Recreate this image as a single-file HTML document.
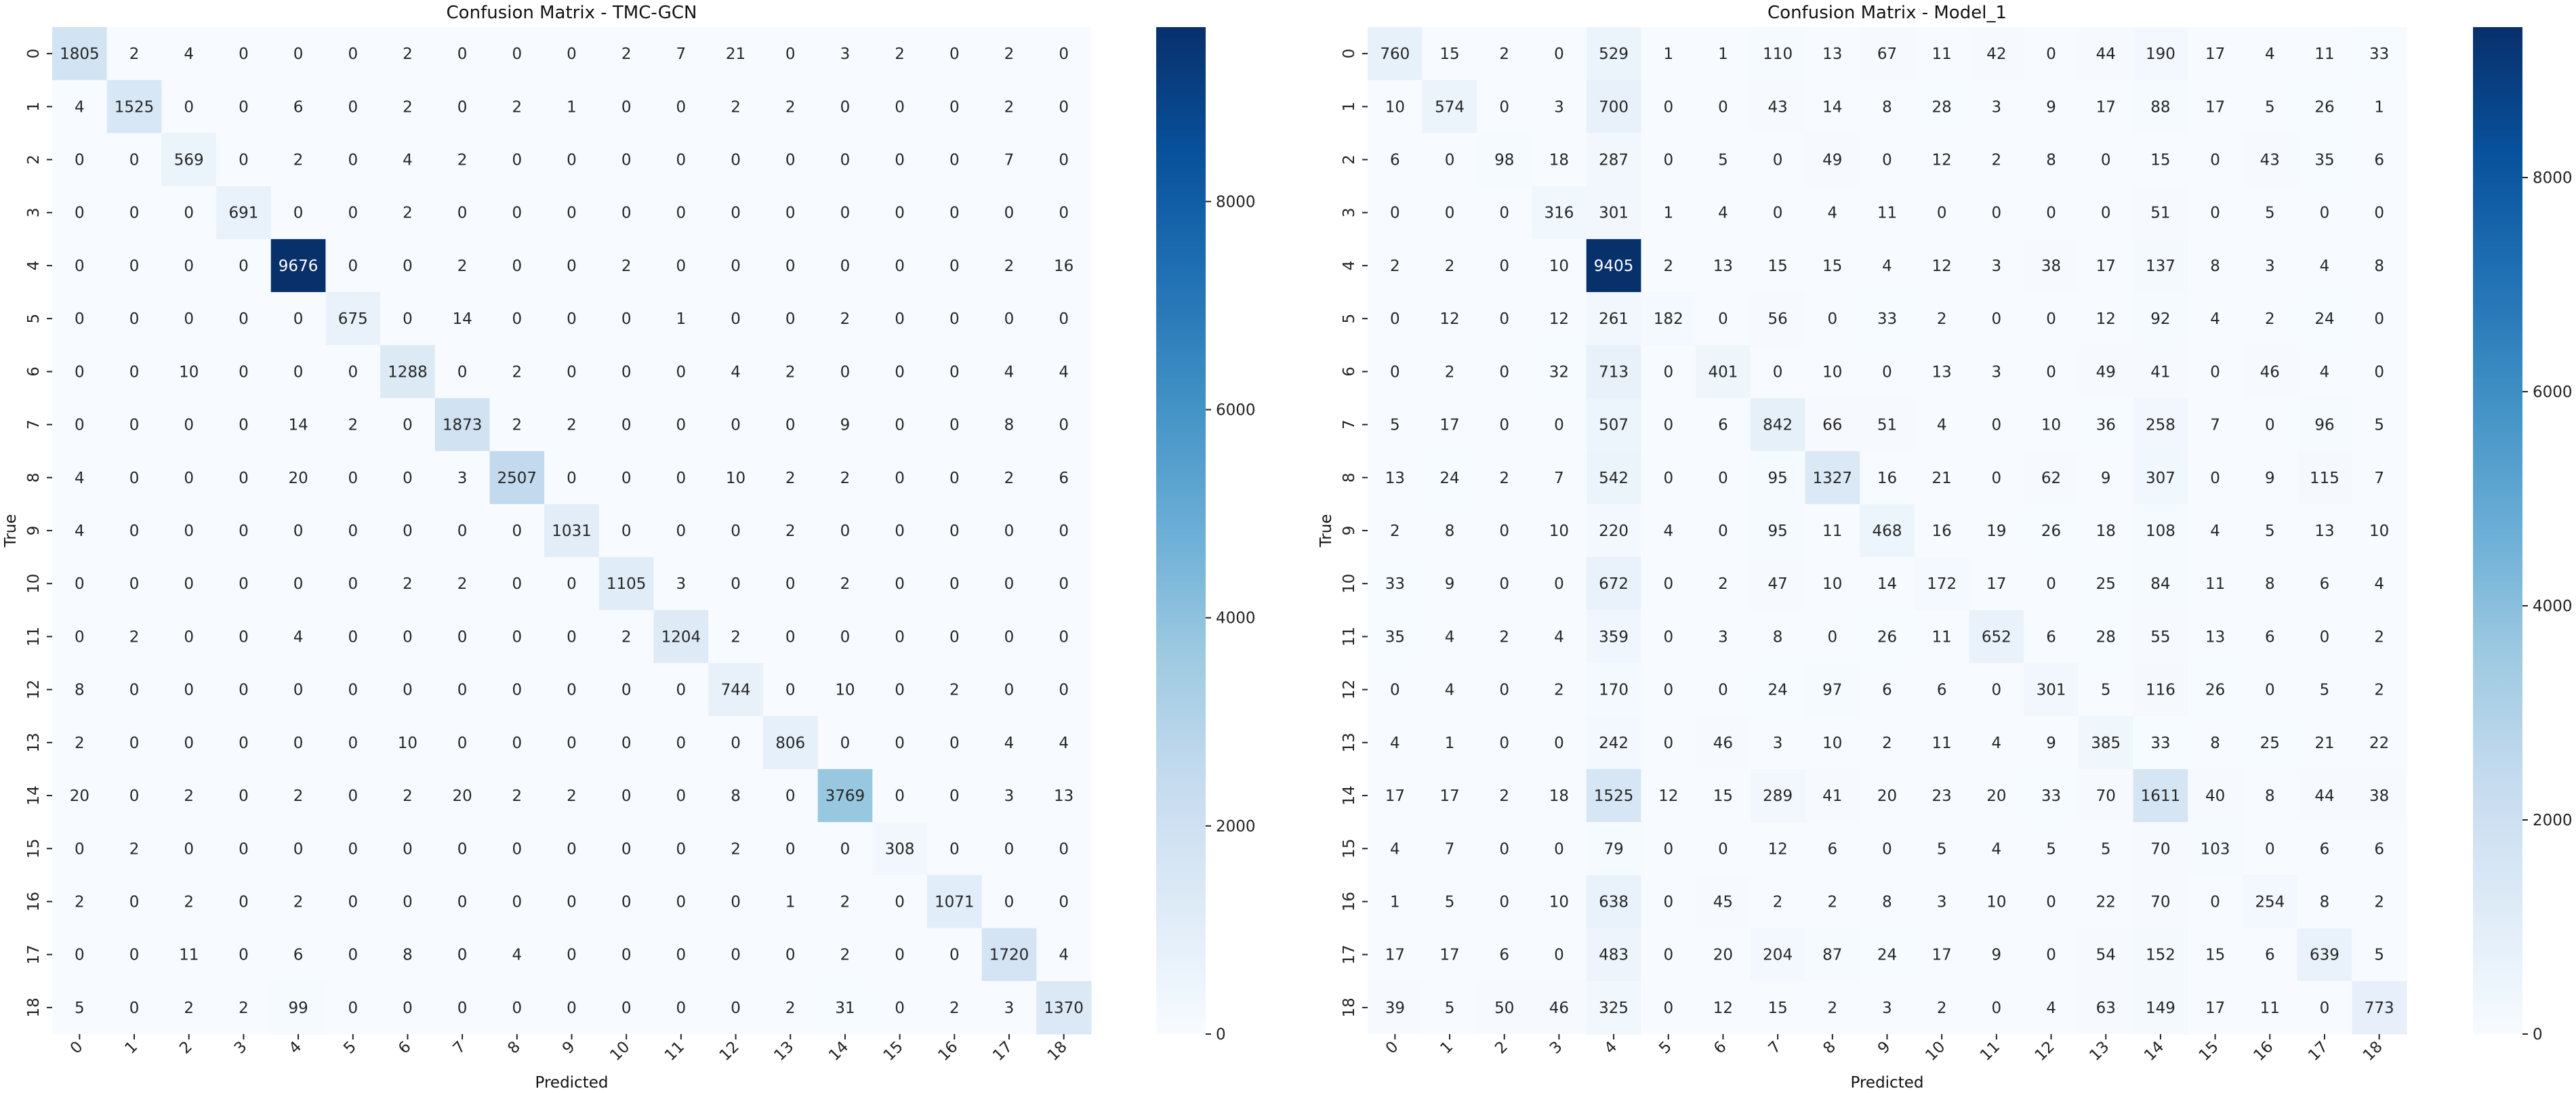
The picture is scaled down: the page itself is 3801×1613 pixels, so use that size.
<!DOCTYPE html>
<html><head><meta charset="utf-8"><style>
html,body{margin:0;padding:0;background:#fff}
svg{display:block;font-family:"DejaVu Sans","Liberation Sans",sans-serif}
</style></head><body>
<svg id="fig" width="3801" height="1613" viewBox="0 0 3801 1613" xmlns="http://www.w3.org/2000/svg">
<defs>
<linearGradient id="blues" x1="0" y1="1" x2="0" y2="0">
<stop offset="0" stop-color="#f7fbff"/><stop offset="0.125" stop-color="#deebf7"/><stop offset="0.25" stop-color="#c6dbef"/><stop offset="0.375" stop-color="#9ecae1"/><stop offset="0.5" stop-color="#6baed6"/><stop offset="0.625" stop-color="#4292c6"/><stop offset="0.75" stop-color="#2171b5"/><stop offset="0.875" stop-color="#08519c"/><stop offset="1" stop-color="#08306b"/>
</linearGradient>
</defs>
</svg>
<script>
const classLabels = ["0","1","2","3","4","5","6","7","8","9","10","11","12","13","14","15","16","17","18"];
const colorbarTicks = [0,2000,4000,6000,8000];
const tmcGcnMatrix = [
[1805,2,4,0,0,0,2,0,0,0,2,7,21,0,3,2,0,2,0],
[4,1525,0,0,6,0,2,0,2,1,0,0,2,2,0,0,0,2,0],
[0,0,569,0,2,0,4,2,0,0,0,0,0,0,0,0,0,7,0],
[0,0,0,691,0,0,2,0,0,0,0,0,0,0,0,0,0,0,0],
[0,0,0,0,9676,0,0,2,0,0,2,0,0,0,0,0,0,2,16],
[0,0,0,0,0,675,0,14,0,0,0,1,0,0,2,0,0,0,0],
[0,0,10,0,0,0,1288,0,2,0,0,0,4,2,0,0,0,4,4],
[0,0,0,0,14,2,0,1873,2,2,0,0,0,0,9,0,0,8,0],
[4,0,0,0,20,0,0,3,2507,0,0,0,10,2,2,0,0,2,6],
[4,0,0,0,0,0,0,0,0,1031,0,0,0,2,0,0,0,0,0],
[0,0,0,0,0,0,2,2,0,0,1105,3,0,0,2,0,0,0,0],
[0,2,0,0,4,0,0,0,0,0,2,1204,2,0,0,0,0,0,0],
[8,0,0,0,0,0,0,0,0,0,0,0,744,0,10,0,2,0,0],
[2,0,0,0,0,0,10,0,0,0,0,0,0,806,0,0,0,4,4],
[20,0,2,0,2,0,2,20,2,2,0,0,8,0,3769,0,0,3,13],
[0,2,0,0,0,0,0,0,0,0,0,0,2,0,0,308,0,0,0],
[2,0,2,0,2,0,0,0,0,0,0,0,0,1,2,0,1071,0,0],
[0,0,11,0,6,0,8,0,4,0,0,0,0,0,2,0,0,1720,4],
[5,0,2,2,99,0,0,0,0,0,0,0,0,2,31,0,2,3,1370]];
const model1Matrix = [
[760,15,2,0,529,1,1,110,13,67,11,42,0,44,190,17,4,11,33],
[10,574,0,3,700,0,0,43,14,8,28,3,9,17,88,17,5,26,1],
[6,0,98,18,287,0,5,0,49,0,12,2,8,0,15,0,43,35,6],
[0,0,0,316,301,1,4,0,4,11,0,0,0,0,51,0,5,0,0],
[2,2,0,10,9405,2,13,15,15,4,12,3,38,17,137,8,3,4,8],
[0,12,0,12,261,182,0,56,0,33,2,0,0,12,92,4,2,24,0],
[0,2,0,32,713,0,401,0,10,0,13,3,0,49,41,0,46,4,0],
[5,17,0,0,507,0,6,842,66,51,4,0,10,36,258,7,0,96,5],
[13,24,2,7,542,0,0,95,1327,16,21,0,62,9,307,0,9,115,7],
[2,8,0,10,220,4,0,95,11,468,16,19,26,18,108,4,5,13,10],
[33,9,0,0,672,0,2,47,10,14,172,17,0,25,84,11,8,6,4],
[35,4,2,4,359,0,3,8,0,26,11,652,6,28,55,13,6,0,2],
[0,4,0,2,170,0,0,24,97,6,6,0,301,5,116,26,0,5,2],
[4,1,0,0,242,0,46,3,10,2,11,4,9,385,33,8,25,21,22],
[17,17,2,18,1525,12,15,289,41,20,23,20,33,70,1611,40,8,44,38],
[4,7,0,0,79,0,0,12,6,0,5,4,5,5,70,103,0,6,6],
[1,5,0,10,638,0,45,2,2,8,3,10,0,22,70,0,254,8,2],
[17,17,6,0,483,0,20,204,87,24,17,9,0,54,152,15,6,639,5],
[39,5,50,46,325,0,12,15,2,3,2,0,4,63,149,17,11,0,773]];
const panelTitles = ["Confusion Matrix - TMC-GCN","Confusion Matrix - Model_1"];

const NS="http://www.w3.org/2000/svg";
const svg=document.getElementById('fig');
const stops=[[247,251,255],[222,235,247],[198,219,239],[158,202,225],[107,174,214],[66,146,198],[33,113,181],[8,81,156],[8,48,107]];
function blues(t){t=Math.max(0,Math.min(1,t));const p=t*8,i=Math.min(7,Math.floor(p)),f=p-i;
 return stops[i].map((c,k)=>Math.round(c+(stops[i+1][k]-c)*f));}
function lum(c){const l=c.map(v=>{v/=255;return v<=0.03928?v/12.92:Math.pow((v+0.055)/1.055,2.4)});return 0.2126*l[0]+0.7152*l[1]+0.0722*l[2];}
function mk(tag,attrs,parent){const e=document.createElementNS(NS,tag);for(const k in attrs)e.setAttribute(k,attrs[k]);(parent||svg).appendChild(e);return e;}

function panel(matrix,title,x0,cbx,slug){
 const g=mk('g',{});
 
 
 const y0=40,W=1533,H=1486,n=classLabels.length,cw=W/n,ch=H/n;
 let vmax=0;matrix.forEach(r=>r.forEach(v=>{if(v>vmax)vmax=v;}));
 const xs=i=>x0+i*cw, ys=i=>y0+i*ch;
 for(let r=0;r<n;r++)for(let c=0;c<n;c++){
  const v=matrix[r][c],col=blues(v/vmax);
  const rect=mk('rect',{x:xs(c),y:ys(r),width:cw+0.6,height:ch+0.6,fill:`rgb(${col})`},g);
  
  
  const t=mk('text',{x:xs(c)+cw/2,y:ys(r)+ch/2+8,'text-anchor':'middle','font-size':23,fill:lum(col)>0.408?'#262626':'#ffffff'},g);
  
  
  t.textContent=v;
 }
 for(let i=0;i<n;i++){
  const cx=xs(i)+cw/2,cy=ys(i)+ch/2;
  mk('line',{x1:cx,y1:y0+H,x2:cx,y2:y0+H+8,stroke:'#222','stroke-width':2},g);
  const xt=mk('text',{x:0,y:0,'text-anchor':'end','font-size':23,fill:'#222',transform:`translate(${cx+6},${y0+H+20}) rotate(-45)`},g);
  
  
  xt.textContent=classLabels[i];
  mk('line',{x1:x0-8,y1:cy,x2:x0,y2:cy,stroke:'#222','stroke-width':2},g);
  const yt=mk('text',{x:0,y:0,'text-anchor':'middle','font-size':23,fill:'#222',transform:`translate(${x0-20},${cy}) rotate(-90)`},g);
  
  
  yt.textContent=classLabels[i];
 }
 const tt=mk('text',{x:x0+W/2,y:27,'text-anchor':'middle','font-size':26,fill:'#111'},g);
 
 
 tt.textContent=title;
 const xl=mk('text',{x:x0+W/2,y:1605,'text-anchor':'middle','font-size':23,fill:'#111'},g);
 
 
 xl.textContent='Predicted';
 const yl=mk('text',{x:0,y:0,'text-anchor':'middle','font-size':23,fill:'#111',transform:`translate(${x0-54},${y0+H/2}) rotate(-90)`},g);
 
 
 yl.textContent='True';
 const cb=mk('rect',{x:cbx,y:y0,width:73,height:H,fill:'url(#blues)'},g);
 
 
 const cy=v=>y0+H-v/vmax*H;
 colorbarTicks.forEach(v=>{
  if(v>vmax)return;
  mk('line',{x1:cbx+73,y1:cy(v),x2:cbx+81,y2:cy(v),stroke:'#222','stroke-width':2},g);
  const ct=mk('text',{x:cbx+88,y:cy(v)+8,'font-size':23,fill:'#222'},g);
  
  
  ct.textContent=v;
 });
}
panel(tmcGcnMatrix,panelTitles[0],77,1706,'tmc-gcn');
panel(model1Matrix,panelTitles[1],2018,3649,'model-1');
</script>
</body></html>
